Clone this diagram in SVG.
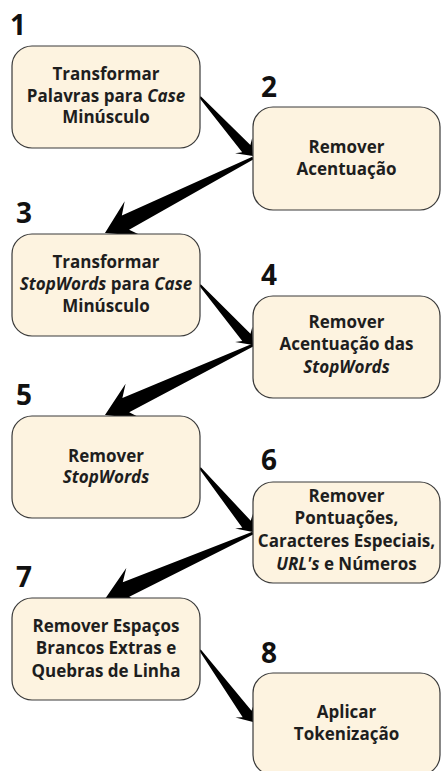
<svg xmlns="http://www.w3.org/2000/svg" width="441" height="771" viewBox="0 0 441 771">
  <style>
    .box { fill: #fdf3e0; stroke: #3a3a3a; stroke-width: 1.2; }
    .lbl { font-family: "Open Sans", "Noto Sans", "Liberation Sans", sans-serif; font-weight: 700; font-size: 17px; fill: #1e1e1e; text-anchor: middle; }
    .num { font-family: "Open Sans", "Noto Sans", "Liberation Sans", sans-serif; font-weight: 700; font-size: 28px; fill: #111; }
    .it { font-style: italic; }
    .arrow { fill: #000; }
  </style>
  <rect width="441" height="771" fill="#fff"/>

  <!-- tapered arrows between steps -->
  <g id="connectors">
    <!-- 1 -> 2 -->
    <path class="arrow" transform="translate(200,97) rotate(48.1)" d="M0,-1 L69.3,-5.5 L65.3,-11.5 L79.3,0 L65.3,11.5 L69.3,5.5 L0,1 Z"/>
    <!-- 2 -> 3 -->
    <path class="arrow" transform="translate(253,158) rotate(153.1)" d="M0,-1.5 L143,-8 L134,-19.5 L166,0 L134,19.5 L143,8 L0,1.5 Z"/>
    <!-- 3 -> 4 -->
    <path class="arrow" transform="translate(200,285) rotate(48.5)" d="M0,-1 L70,-5.5 L66,-11.5 L80,0 L66,11.5 L70,5.5 L0,1 Z"/>
    <!-- 4 -> 5 -->
    <path class="arrow" transform="translate(253,345) rotate(154.7)" d="M0,-1.5 L140.7,-8 L131.7,-19.5 L163.7,0 L131.7,19.5 L140.7,8 L0,1.5 Z"/>
    <!-- 5 -> 6 -->
    <path class="arrow" transform="translate(200,468) rotate(50.4)" d="M0,-1 L73,-5.5 L69,-11.5 L83,0 L69,11.5 L73,5.5 L0,1 Z"/>
    <!-- 6 -> 7 -->
    <path class="arrow" transform="translate(253,533) rotate(156)" d="M0,-1.5 L139,-8 L130,-19.5 L162,0 L130,19.5 L139,8 L0,1.5 Z"/>
    <!-- 7 -> 8 -->
    <path class="arrow" transform="translate(200,650) rotate(53.6)" d="M0,-1 L79.4,-5.5 L75.4,-11.5 L89.4,0 L75.4,11.5 L79.4,5.5 L0,1 Z"/>
  </g>

  <g id="step1">
    <text class="num" x="10" y="35">1</text>
    <rect class="box" x="12" y="46" width="188" height="102" rx="20"/>
    <text class="lbl" x="106" y="80">Transformar</text>
    <text class="lbl" x="106" y="102">Palavras para <tspan class="it">Case</tspan></text>
    <text class="lbl" x="106" y="123">Minúsculo</text>
  </g>

  <g id="step2">
    <text class="num" x="261" y="97">2</text>
    <rect class="box" x="253" y="107" width="187" height="103" rx="20"/>
    <text class="lbl" x="346.5" y="153">Remover</text>
    <text class="lbl" x="346.5" y="175">Acentuação</text>
  </g>

  <g id="step3">
    <text class="num" x="16" y="223">3</text>
    <rect class="box" x="12" y="234" width="188" height="102" rx="20"/>
    <text class="lbl" x="106" y="268">Transformar</text>
    <text class="lbl" x="106" y="290"><tspan class="it">StopWords</tspan> para <tspan class="it">Case</tspan></text>
    <text class="lbl" x="106" y="312">Minúsculo</text>
  </g>

  <g id="step4">
    <text class="num" x="261" y="285">4</text>
    <rect class="box" x="253" y="296" width="187" height="102" rx="20"/>
    <text class="lbl" x="346.5" y="328">Remover</text>
    <text class="lbl" x="346.5" y="350">Acentuação das</text>
    <text class="lbl it" x="346.5" y="373">StopWords</text>
  </g>

  <g id="step5">
    <text class="num" x="16" y="405">5</text>
    <rect class="box" x="12" y="416" width="188" height="102" rx="20"/>
    <text class="lbl" x="106" y="462">Remover</text>
    <text class="lbl it" x="106" y="483">StopWords</text>
  </g>

  <g id="step6">
    <text class="num" x="261" y="470">6</text>
    <rect class="box" x="253" y="482" width="187" height="101" rx="20"/>
    <text class="lbl" x="346.5" y="502">Remover</text>
    <text class="lbl" x="346.5" y="524">Pontuações,</text>
    <text class="lbl" x="346.5" y="547">Caracteres Especiais,</text>
    <text class="lbl" x="346.5" y="570"><tspan class="it">URL's</tspan> e Números</text>
  </g>

  <g id="step7">
    <text class="num" x="16" y="587">7</text>
    <rect class="box" x="12" y="598" width="188" height="102" rx="20"/>
    <text class="lbl" x="106" y="632">Remover Espaços</text>
    <text class="lbl" x="106" y="654">Brancos Extras e</text>
    <text class="lbl" x="106" y="677">Quebras de Linha</text>
  </g>

  <g id="step8">
    <text class="num" x="261" y="663">8</text>
    <rect class="box" x="253" y="673" width="187" height="102" rx="20"/>
    <text class="lbl" x="346.5" y="718">Aplicar</text>
    <text class="lbl" x="346.5" y="740">Tokenização</text>
  </g>
</svg>
